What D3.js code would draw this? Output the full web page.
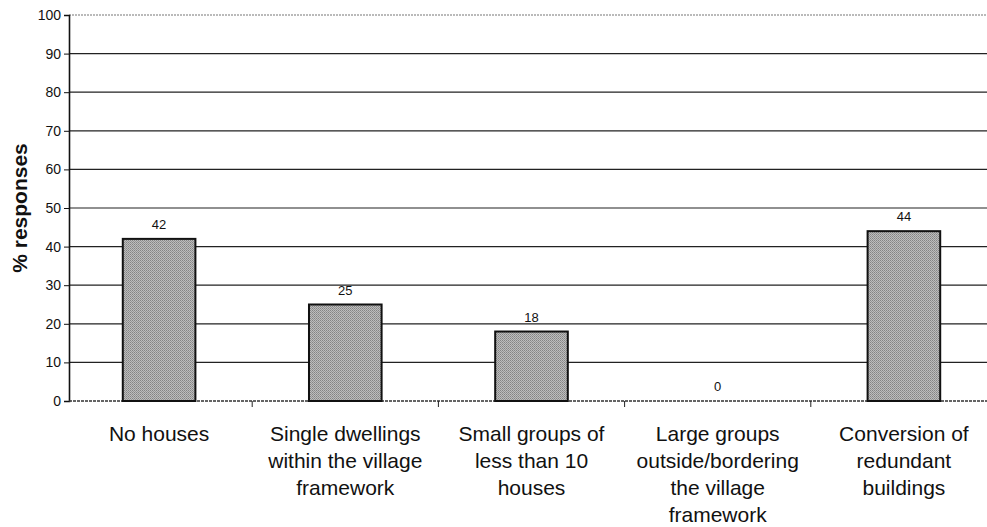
<!DOCTYPE html>
<html>
<head>
<meta charset="utf-8">
<script src="https://cdn.jsdelivr.net/npm/d3@7"></script>
<style>
  body { margin: 0; background: #fff; }
  svg { display: block; }
</style>
</head>
<body>
<div id="chart"></div>
<script>
// data
let categories = [
  ["No houses"],
  ["Single dwellings", "within the village", "framework"],
  ["Small groups of", "less than 10", "houses"],
  ["Large groups", "outside/bordering", "the village", "framework"],
  ["Conversion of", "redundant", "buildings"]
];
let values = [42, 25, 18, 0, 44];
let yTicks = [0, 10, 20, 30, 40, 50, 60, 70, 80, 90, 100];

let width = 987, height = 527;
let margin = {left: 69, right: -10, top: 15, bottom: 126};
let font = "'Liberation Sans', Arial, Helvetica, sans-serif";

let svg = d3.select("#chart").append("svg")
    .attr("width", width)
    .attr("height", height);

// texture for the bars
let defs = svg.append("defs");
let pat = defs.append("pattern")
    .attr("id", "grain")
    .attr("width", 2).attr("height", 2)
    .attr("patternUnits", "userSpaceOnUse");
pat.append("rect").attr("width", 2).attr("height", 2).attr("fill", "#bdbdbd");
pat.append("rect").attr("width", 1).attr("height", 1).attr("fill", "#848484");
pat.append("rect").attr("x", 1).attr("y", 1).attr("width", 1).attr("height", 1).attr("fill", "#959595");

let x = d3.scaleBand()
    .domain(d3.range(categories.length))
    .range([margin.left - 3, width - margin.right])
    .paddingInner(0.61)
    .paddingOuter(0.305);

let y = d3.scaleLinear()
    .domain([0, 100])
    .range([height - margin.bottom, margin.top]);

// gridlines
svg.append("g")
    .selectAll("line")
    .data(yTicks.filter(d => d > 0))
    .join("line")
    .attr("x1", margin.left).attr("x2", width)
    .attr("y1", d => y(d)).attr("y2", d => y(d))
    .attr("stroke", d => d == 100 ? "#777" : "#222")
    .attr("stroke-dasharray", d => d == 100 ? "2,1" : null)
    .attr("stroke-width", 1.2);

// y axis
let yAxis = svg.append("g")
    .attr("transform", "translate(" + margin.left + ",0)")
    .call(d3.axisLeft(y).tickValues(yTicks).tickSize(5).tickPadding(3));
yAxis.select(".domain").attr("stroke", "#111").attr("stroke-width", 1.6);
yAxis.selectAll(".tick line").attr("stroke", "#111");
yAxis.selectAll("text")
    .attr("font-family", font)
    .attr("font-size", 14)
    .attr("fill", "#111");

// x axis line with ticks between categories
let xBase = y(0);
svg.append("line")
    .attr("x1", margin.left).attr("x2", width)
    .attr("y1", xBase).attr("y2", xBase)
    .attr("stroke", "#333").attr("stroke-width", 1.3)
    .attr("stroke-dasharray", "3,1");

let step = x.step();
svg.append("g")
    .selectAll("line")
    .data(d3.range(1, categories.length))
    .join("line")
    .attr("x1", i => x(i) - (step - x.bandwidth()) / 2)
    .attr("x2", i => x(i) - (step - x.bandwidth()) / 2)
    .attr("y1", xBase).attr("y2", xBase + 6)
    .attr("stroke", "#222");

// bars
svg.append("g")
    .selectAll("rect")
    .data(values)
    .join("rect")
    .attr("x", (d, i) => x(i))
    .attr("y", d => y(d))
    .attr("width", x.bandwidth())
    .attr("height", d => y(0) - y(d))
    .attr("fill", "url(#grain)")
    .attr("stroke", "#111")
    .attr("stroke-width", 2);

// value labels
svg.append("g")
    .selectAll("text")
    .data(values)
    .join("text")
    .text(d => d)
    .attr("x", (d, i) => x(i) + x.bandwidth() / 2)
    .attr("y", d => y(d) - 10)
    .attr("text-anchor", "middle")
    .attr("font-family", font)
    .attr("font-size", 13)
    .attr("fill", "#111");

// category labels
let labels = svg.append("g")
    .selectAll("text")
    .data(categories)
    .join("text")
    .attr("text-anchor", "middle")
    .attr("font-family", font)
    .attr("font-size", 21)
    .attr("fill", "#111")
    .attr("transform", (d, i) => "translate(" + (x(i) + x.bandwidth() / 2) + "," + (xBase + 40) + ")");
labels.selectAll("tspan")
    .data(d => d)
    .join("tspan")
    .attr("x", 0)
    .attr("dy", (d, j) => j == 0 ? 0 : 27)
    .text(d => d);

// y axis title
svg.append("text")
    .text("% responses")
    .attr("transform", "translate(27," + ((margin.top + xBase) / 2) + ") rotate(-90)")
    .attr("text-anchor", "middle")
    .attr("font-family", font)
    .attr("font-weight", "bold")
    .attr("font-size", 21)
    .attr("fill", "#111");
</script>
</body>
</html>
